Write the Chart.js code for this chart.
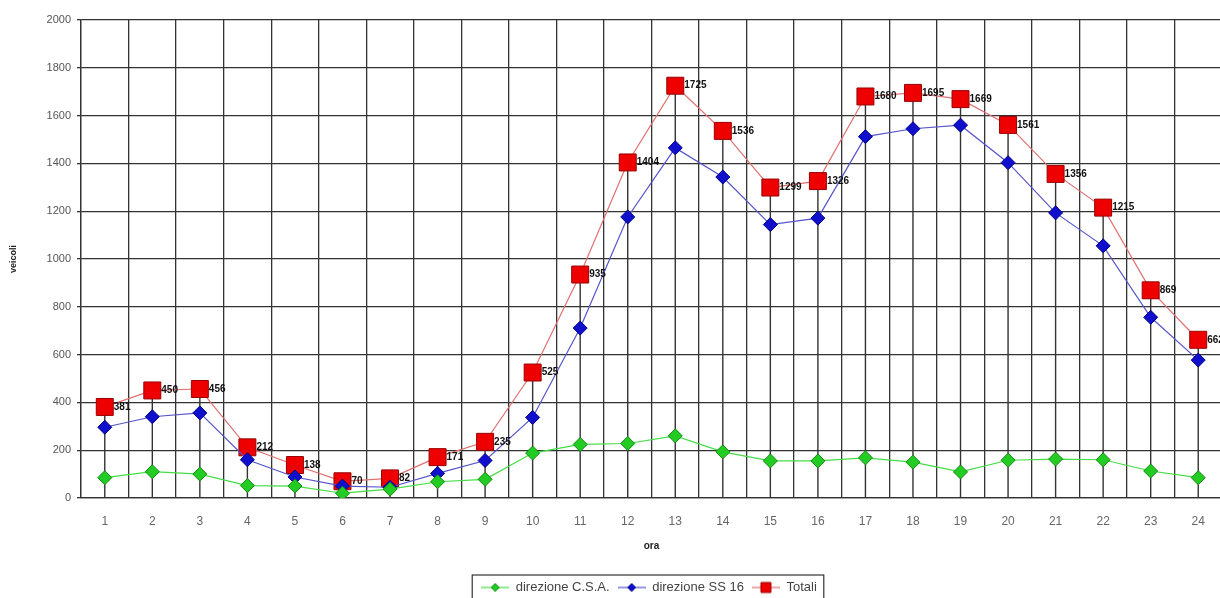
<!DOCTYPE html>
<html>
<head>
<meta charset="utf-8">
<script src="https://cdn.jsdelivr.net/npm/chart.js@4/dist/chart.umd.min.js"></script>
<style>
  html, body { margin: 0; padding: 0; overflow: hidden; background: #fff; }
  canvas { display: block; }
</style>
</head>
<body>
<canvas id="trafficChart" width="1235" height="598"></canvas>
<script>
// ore del giorno
var hours = ['1','2','3','4','5','6','7','8','9','10','11','12','13','14','15','16','17','18','19','20','21','22','23','24'];
// veicoli per direzione
var csa = [85, 110, 100, 52, 50, 20, 37, 68, 78, 188, 224, 228, 260, 193, 155, 155, 168, 150, 109, 158, 163, 160, 113, 85];
var ss16 = [296, 340, 356, 160, 88, 50, 45, 103, 157, 337, 711, 1176, 1465, 1343, 1144, 1171, 1512, 1545, 1560, 1403, 1193, 1055, 756, 577];
var totali = [381, 450, 456, 212, 138, 70, 82, 171, 235, 525, 935, 1404, 1725, 1536, 1299, 1326, 1680, 1695, 1669, 1561, 1356, 1215, 869, 662];
var yTicks = [0, 200, 400, 600, 800, 1000, 1200, 1400, 1600, 1800, 2000];

var FONT = '"Liberation Sans", Arial, sans-serif';

// small line+marker picture for the legend
function legendSymbol(lineColor, fill, stroke, shape, size) {
    var c = document.createElement('canvas');
    c.width = 28; c.height = 14;
    var g = c.getContext('2d');
    g.strokeStyle = lineColor; g.lineWidth = 1.2;
    g.beginPath(); g.moveTo(0, 7); g.lineTo(28, 7); g.stroke();
    g.fillStyle = fill; g.strokeStyle = stroke; g.lineWidth = 1;
    g.beginPath();
    if (shape === 'rect') {
        g.rect(14 - size, 7 - size, size * 2, size * 2);
    } else {
        g.moveTo(14, 7 - size); g.lineTo(14 + size, 7); g.lineTo(14, 7 + size); g.lineTo(14 - size, 7); g.closePath();
    }
    g.fill(); g.stroke();
    return c;
}

var dropLines = {
    id: 'dropLines',
    beforeDatasetsDraw: function (chart) {
        var meta = chart.getDatasetMeta(2);
        var ctx = chart.ctx;
        var bottom = chart.chartArea.bottom;
        ctx.save();
        ctx.strokeStyle = '#333';
        ctx.lineWidth = 1.4;
        meta.data.forEach(function (pt) {
            ctx.beginPath();
            ctx.moveTo(pt.x, pt.y);
            ctx.lineTo(pt.x, bottom);
            ctx.stroke();
        });
        ctx.restore();
    }
};

var totalLabels = {
    id: 'totalLabels',
    afterDatasetsDraw: function (chart) {
        var meta = chart.getDatasetMeta(2);
        var ctx = chart.ctx;
        ctx.save();
        ctx.font = 'bold 10px ' + FONT;
        ctx.fillStyle = '#111';
        ctx.textBaseline = 'middle';
        meta.data.forEach(function (pt, i) {
            ctx.fillText(String(totali[i]), pt.x + 9, pt.y);
        });
        ctx.restore();
    }
};

// legend sits a bit right of centre, inside a frame
var legendShift = {
    id: 'legendShift',
    afterLayout: function (chart) {
        chart.legend.left += 33;
        chart.legend.right += 33;
    }
};

var legendBorder = {
    id: 'legendBorder',
    afterDraw: function (chart) {
        var boxes = chart.legend.legendHitBoxes;
        if (!boxes || !boxes.length) return;
        var l = Math.min.apply(null, boxes.map(function (b) { return b.left; }));
        var r = Math.max.apply(null, boxes.map(function (b) { return b.left + b.width; }));
        var t = Math.min.apply(null, boxes.map(function (b) { return b.top; }));
        var b2 = Math.max.apply(null, boxes.map(function (b) { return b.top + b.height; }));
        var ctx = chart.ctx;
        ctx.save();
        ctx.strokeStyle = '#333';
        ctx.lineWidth = 1.2;
        ctx.strokeRect(l - 9, t - 6, r - l + 16, b2 - t + 12);
        ctx.restore();
    }
};

var symbols = [
    legendSymbol('#44dd44', '#22cc22', '#118811', 'diamond', 4),
    legendSymbol('#5555cc', '#1010cc', '#000088', 'diamond', 4),
    legendSymbol('#e07070', '#ee0000', '#990000', 'rect', 5)
];

var ctx = document.getElementById('trafficChart').getContext('2d');
var chart = new Chart(ctx, {
    type: 'line',
    data: {
        labels: hours,
        datasets: [{
            label: 'direzione C.S.A.',
            data: csa,
            borderColor: '#44dd44',
            borderWidth: 1.2,
            backgroundColor: '#22cc22',
            pointBackgroundColor: '#22cc22',
            pointBorderColor: '#118811',
            pointBorderWidth: 1,
            pointStyle: 'rectRot',
            pointRadius: 7,
            tension: 0
        }, {
            label: 'direzione SS 16',
            data: ss16,
            borderColor: '#5555cc',
            borderWidth: 1.2,
            backgroundColor: '#1010cc',
            pointBackgroundColor: '#1010cc',
            pointBorderColor: '#000088',
            pointBorderWidth: 1,
            pointStyle: 'rectRot',
            pointRadius: 7,
            tension: 0
        }, {
            label: 'Totali',
            data: totali,
            borderColor: '#e07070',
            borderWidth: 1.2,
            backgroundColor: '#ee0000',
            pointBackgroundColor: '#ee0000',
            pointBorderColor: '#990000',
            pointBorderWidth: 1,
            pointStyle: 'rect',
            pointRadius: 12,
            tension: 0
        }]
    },
    options: {
        responsive: false,
        animation: false,
        layout: { padding: { top: 20, left: 0, right: 3, bottom: -6 } },
        plugins: {
            legend: {
                position: 'bottom',
                labels: {
                    color: '#444',
                    font: { size: 13, family: FONT },
                    usePointStyle: true,
                    pointStyleWidth: 28,
                    boxHeight: 12,
                    padding: 8,
                    generateLabels: function (chart) {
                        return chart.data.datasets.map(function (ds, i) {
                            return { text: ds.label, pointStyle: symbols[i], datasetIndex: i, fontColor: '#444', lineWidth: 0 };
                        });
                    }
                }
            },
            tooltip: { enabled: false }
        },
        scales: {
            x: {
                offset: true,
                grid: { offset: true, color: '#333', lineWidth: 1.3, drawTicks: false },
                border: { color: '#333', width: 1.3 },
                ticks: { color: '#666', padding: 16, font: { size: 12, family: FONT } },
                title: { display: true, text: 'ora', color: '#222', padding: { top: 10, bottom: 21 },
                         font: { size: 10, weight: 'bold', family: FONT } },
                afterFit: function (scale) {
                    scale.height = 598 - 498 + 6 - scale.chart.legend.height;
                }
            },
            y: {
                min: 0,
                max: 2000,
                afterBuildTicks: function (scale) {
                    scale.ticks = yTicks.map(function (v) { return { value: v }; });
                },
                grid: { color: '#333', lineWidth: 1.3, tickLength: 4 },
                border: { color: '#333', width: 1.3 },
                ticks: {
                    color: '#555', padding: 6, font: { size: 11, family: FONT },
                    callback: function (v) { return String(v); }
                },
                title: { display: true, text: 'veicoli', color: '#222', padding: { top: 8, bottom: 0 },
                         font: { size: 9, weight: 'bold', family: FONT } },
                afterFit: function (scale) {
                    scale.width = 81;
                }
            }
        }
    },
    plugins: [dropLines, totalLabels, legendShift, legendBorder]
});
</script>
</body>
</html>
